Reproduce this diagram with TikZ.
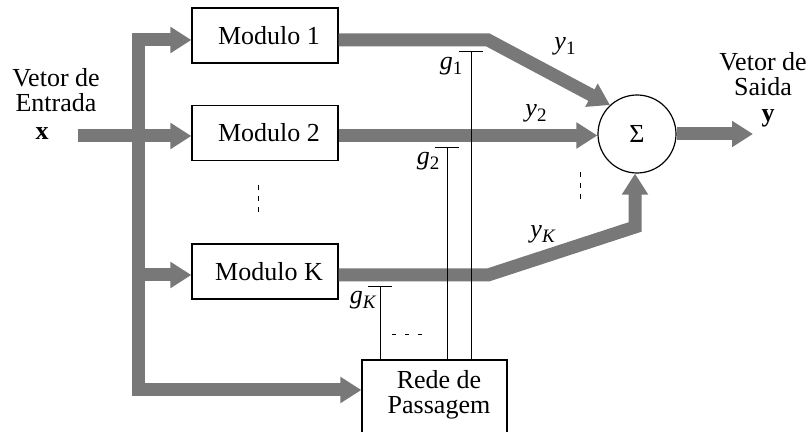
\documentclass[tikz,border=0pt]{standalone}
\usepackage{fontspec}
\setmainfont{Liberation Serif}
\usetikzlibrary{arrows.meta,calc}
\definecolor{barcol}{RGB}{120,120,120}
\newcommand\lblsub[2]{\textit{#1}\raisebox{-0.45ex}{\fontsize{9.5}{9.5}\selectfont #2}}
\tikzset{
  bar/.style={line width=6.5pt, draw=barcol, line join=miter},
  barrow/.style={bar, -{Triangle[length=10.5pt,width=12.5pt]}},
  modbox/.style={draw, line width=0.6pt, minimum width=73pt, minimum height=27.5pt, inner sep=0pt, fill=white},
  thinline/.style={line width=0.5pt},
  dotsv/.style={line width=0.5pt, dash pattern=on 2.5pt off 3pt},
  dotsh/.style={line width=0.5pt, dash pattern=on 2pt off 4.5pt},
  txt/.style={inner sep=0pt, align=center}
}
\begin{document}
\begin{tikzpicture}[x=0.5pt,y=-0.5pt,font=\fontsize{13}{12.5}\selectfont]
\useasboundingbox (0,0) rectangle (810,432);
% boxes
\node[modbox] (m1) at (265,35.5) {\hspace*{4pt}Modulo 1};
\node[modbox] (m2) at (265,133) {\hspace*{4pt}Modulo 2};
\node[modbox] (mk) at (265,271.5) {\hspace*{4pt}Modulo K};
\node[draw, line width=0.6pt, minimum width=72.5pt, minimum height=40pt, inner sep=0pt] (rede) at (434.5,400) {};
\node[txt] (redetxt) at (439,395) {Rede de\\Passagem};
\node[draw, circle, line width=0.6pt, minimum size=39pt, inner sep=0pt] (sum) at (637,134) {Σ};
% coordinates
\coordinate (tl) at (138.5,40);
\coordinate (bl) at (138.5,390);
\coordinate (xin) at (78,136);
\coordinate (kl) at (138.5,275);
\coordinate (o1) at (488,40);
\coordinate (y2c) at (0,135.5);
\coordinate (ok) at (488,275);
\coordinate (ko) at (635,227);
\coordinate (yout) at (753,134);
% input distribution
\draw[bar, {Triangle[length=10.5pt,width=12.5pt]}-{Triangle[length=10.5pt,width=12.5pt]}] (m1.west |- tl) -- (tl) -- (bl) -- (rede.west |- bl);
\draw[barrow] (xin) -- (m2.west |- xin);
\draw[barrow] (kl) -- (mk.west |- kl);
% outputs
\draw[barrow] (m1.east |- o1) -- (o1) -- (sum.133);
\draw[barrow] (m2.east |- y2c) -- (sum.west |- y2c);
\draw[barrow] (mk.east |- ok) -- (ok) -- (ko) -- (sum.south -| ko);
\draw[barrow] (sum.east) -- (yout);
% gating lines
\coordinate (g1t) at (471,51.5);
\coordinate (g2t) at (447,148);
\coordinate (gkt) at (380,287);
\foreach \g in {g1t,g2t,gkt}{
  \draw[thinline] (\g) -- (\g |- rede.north);
  \draw[thinline] ([xshift=-6pt]\g) -- ([xshift=6pt]\g);
}
% labels
\node[txt] (lg1) at (451,66) {\lblsub{g}{1}};
\node[txt] (lg2) at (428,161) {\lblsub{g}{2}};
\node[txt] (lgk) at (363,300) {\lblsub{g}{\textit{K}}};
\node[txt] (ly1) at (565,46) {\lblsub{y}{1}};
\node[txt] (ly2) at (536,113) {\lblsub{y}{2}};
\node[txt] (lyk) at (543,234) {\lblsub{y}{\textit{K}}};
\node[txt] (lin) at (56,90) {Vetor de\\Entrada};
\node[txt] (lx) at (42,134) {\textbf{x}};
\node[txt] (lout) at (763,74) {Vetor de\\Saida};
\node[txt] (ly) at (768,118) {\textbf{y}};
% dots
\draw[dotsv] (258,185) -- (258,216);
\draw[dotsv] (580,172) -- (580,203);
\draw[dotsh] (392,335) -- (422,335);
\end{tikzpicture}
\end{document}
